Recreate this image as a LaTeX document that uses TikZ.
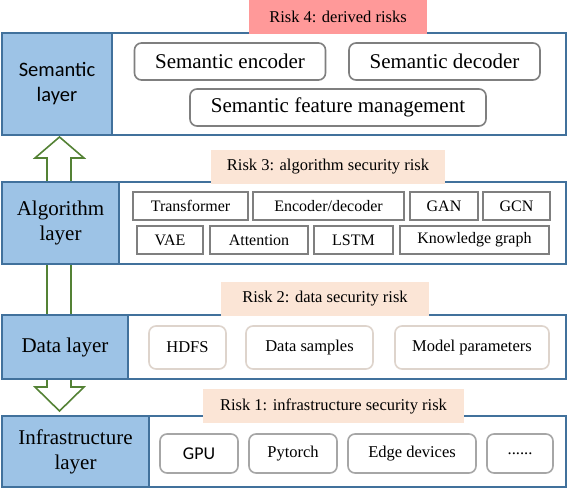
\documentclass[tikz,border=0pt]{standalone}
\usepackage{fontspec}
\setmainfont{Liberation Serif}
\newfontfamily\calibfont{Carlito}
\definecolor{bluefill}{RGB}{157,195,230}
\definecolor{blueline}{RGB}{65,113,156}
\definecolor{riskpink}{RGB}{255,153,153}
\definecolor{riskpeach}{RGB}{251,229,214}
\definecolor{arrowgreen}{RGB}{84,130,53}
\definecolor{grayA}{RGB}{127,127,127}
\definecolor{grayB}{RGB}{166,166,166}
\definecolor{beige}{RGB}{222,212,204}
\begin{document}
\begin{tikzpicture}[x=1pt,y=-1pt,
  outerbox/.style={draw=blueline,line width=2pt,fill=white,inner sep=0pt,outer sep=0pt},
  bluebox/.style={draw=blueline,line width=2pt,fill=bluefill,inner sep=0pt,outer sep=0pt,align=center,font=\fontsize{21}{25}\selectfont},
  riskbox/.style={inner sep=0pt,outer sep=0pt,font=\fontsize{16.5}{19}\selectfont,minimum height=34pt},
  semitem/.style={draw=grayA,line width=1.6pt,rounded corners=7pt,inner sep=0pt,minimum height=37pt,font=\fontsize{21}{25}\selectfont},
  algitem/.style={draw=grayA,line width=1.8pt,inner sep=0pt,minimum height=28pt,font=\fontsize{16}{19}\selectfont},
  dataitem/.style={draw=beige,line width=1.6pt,rounded corners=7pt,inner sep=0pt,minimum height=43pt,font=\fontsize{16.5}{19}\selectfont},
  infitem/.style={draw=grayB,line width=1.6pt,rounded corners=7pt,inner sep=0pt,minimum height=39pt,font=\fontsize{16.5}{19}\selectfont}]
\useasboundingbox (0,0) rectangle (568,490);
% hollow double arrow
\draw[arrowgreen,line width=1.6pt,fill=white,line join=miter]
  (59.5,137) -- (84,158) -- (71,158) -- (71,387) -- (84,387) -- (59.5,411)
  -- (35,387) -- (47,387) -- (47,158) -- (35,158) -- cycle;
% Semantic layer
\node[outerbox,minimum width=564pt,minimum height=102pt] (semOuter) at (284,84) {};
\node[bluebox,minimum width=110pt,minimum height=102pt,font=\calibfont\fontsize{20.5}{25}\selectfont] (semLayer) at (57,84) {Semantic\\layer};
\node[semitem,minimum width=191pt] (semEnc) at (230,61.5) {Semantic encoder};
\node[semitem,minimum width=191pt] (semDec) at (444.5,61.5) {Semantic decoder};
\node[semitem,minimum width=296pt] (semFeat) at (338,107.5) {Semantic feature management};
\node[riskbox,fill=riskpink,minimum width=178pt] (risk4) at (338,17) {Risk 4: derived risks};
% Algorithm layer
\node[outerbox,minimum width=564pt,minimum height=82pt] (algOuter) at (284,223) {};
\node[bluebox,minimum width=117pt,minimum height=82pt] (algLayer) at (60.5,223) {Algorithm\\layer};
\node[algitem,minimum width=115pt] (aTrans) at (190.5,206) {Transformer};
\node[algitem,minimum width=151pt] (aEnc) at (328.5,206) {Encoder/decoder};
\node[algitem,minimum width=68pt] (aGan) at (444,206) {GAN};
\node[algitem,minimum width=67pt] (aGcn) at (516.5,206) {GCN};
\node[algitem,minimum width=66pt] (aVae) at (170,240) {VAE};
\node[algitem,minimum width=98pt] (aAtt) at (259,240) {Attention};
\node[algitem,minimum width=79pt] (aLstm) at (353.5,240) {LSTM};
\node[algitem,minimum width=149pt] (aKg) at (474.5,240) {Knowledge graph};
\node[riskbox,fill=riskpeach,minimum width=234pt] (risk3) at (328,167) {Risk 3: algorithm security risk};
% Data layer
\node[outerbox,minimum width=564pt,minimum height=64pt] (dataOuter) at (284,347) {};
\node[bluebox,minimum width=126pt,minimum height=64pt] (dataLayer) at (65,347) {Data layer};
\node[dataitem,minimum width=77pt] (dHdfs) at (187.5,347.5) {HDFS};
\node[dataitem,minimum width=127pt] (dSamp) at (309.5,347.5) {Data samples};
\node[dataitem,minimum width=154pt] (dModel) at (472,347.5) {Model parameters};
\node[riskbox,fill=riskpeach,minimum width=208pt] (risk2) at (325,299) {Risk 2: data security risk};
% Infrastructure layer
\node[outerbox,minimum width=564pt,minimum height=71pt] (infOuter) at (284,451.5) {};
\node[bluebox,minimum width=147pt,minimum height=71pt] (infLayer) at (75.5,451.5) {Infrastructure\\layer};
\node[infitem,minimum width=78pt,font=\calibfont\fontsize{18}{21}\selectfont] (iGpu) at (199,453.5) {GPU};
\node[infitem,minimum width=88pt] (iPyt) at (293,453.5) {Pytorch};
\node[infitem,minimum width=128pt] (iEdge) at (412,453.5) {Edge devices};
\node[infitem,minimum width=66pt] (iDots) at (520,453.5) {......};
\node[riskbox,fill=riskpeach,minimum width=261pt] (risk1) at (333.5,406) {Risk 1: infrastructure security risk};
\end{tikzpicture}
\end{document}
